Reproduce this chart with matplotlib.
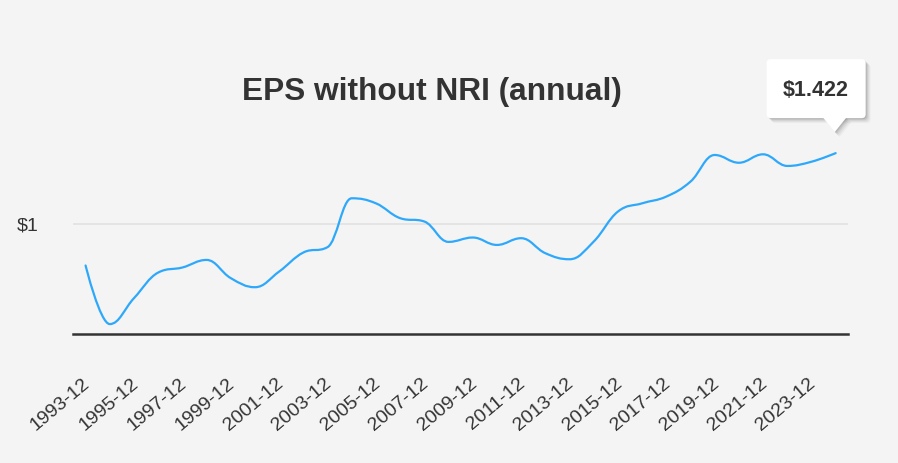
import numpy as np
import matplotlib
matplotlib.use('Agg')
import matplotlib.pyplot as plt
from matplotlib.path import Path
from matplotlib.patches import PathPatch, FancyBboxPatch, Polygon
from matplotlib.transforms import IdentityTransform, ScaledTranslation

plt.rcParams['font.family'] = ['Liberation Sans', 'DejaVu Sans']

# annual EPS without NRI
years = list(range(1993, 2025))
eps = [0.755, 0.407, 0.561, 0.713, 0.743, 0.788, 0.680, 0.626, 0.719, 0.832,
       0.864, 1.154, 1.124, 1.036, 1.016, 0.895, 0.921, 0.877, 0.917, 0.828,
       0.792, 0.897, 1.075, 1.124, 1.164, 1.253, 1.411, 1.365, 1.415, 1.346,
       1.371, 1.422]
labels = [str(y) + '-12' for y in years]
title = 'EPS without NRI (annual)'
tooltip = '$1.422'

bg = '#f4f4f4'
line_col = '#2ea8fb'
text_col = '#333333'


def spline_path(xs, ys, smoothing=1.5):
    # highcharts style spline -> bezier control points
    n = len(xs)
    denom = smoothing + 1
    left = [(xs[i], ys[i]) for i in range(n)]
    right = [(xs[i], ys[i]) for i in range(n)]
    for i in range(1, n - 1):
        px, py = xs[i], ys[i]
        lx, ly = xs[i - 1], ys[i - 1]
        nx, ny = xs[i + 1], ys[i + 1]
        lcx = (smoothing * px + lx) / denom
        lcy = (smoothing * py + ly) / denom
        rcx = (smoothing * px + nx) / denom
        rcy = (smoothing * py + ny) / denom
        corr = ((rcy - lcy) * (rcx - px)) / (rcx - lcx) + py - rcy
        lcy += corr
        rcy += corr
        if lcy > max(ly, py):
            lcy = max(ly, py)
            rcy = 2 * py - lcy
        elif lcy < min(ly, py):
            lcy = min(ly, py)
            rcy = 2 * py - lcy
        if rcy > max(py, ny):
            rcy = max(py, ny)
            lcy = 2 * py - rcy
        elif rcy < min(py, ny):
            rcy = min(py, ny)
            lcy = 2 * py - rcy
        left[i] = (lcx, lcy)
        right[i] = (rcx, rcy)
    verts = [(xs[0], ys[0])]
    codes = [Path.MOVETO]
    for i in range(1, n):
        verts += [right[i - 1], left[i], (xs[i], ys[i])]
        codes += [Path.CURVE4] * 3
    return Path(verts, codes)


W, H = 898, 463
fig = plt.figure(figsize=(W / 100, H / 100), dpi=100, facecolor=bg)
ax = fig.add_axes([73 / W, 1 - 333.7 / H, (848 - 73) / W, (333.7 - 140) / H])
ax.set_facecolor(bg)

x = np.arange(len(years))
ax.add_patch(PathPatch(spline_path(x, eps), facecolor='none', edgecolor=line_col,
                       linewidth=1.6, capstyle='round', joinstyle='round', zorder=3))

ax.set_xlim(-0.52, len(years) - 0.49)
ax.set_ylim(0.35, 1.5)

for s in ['top', 'right', 'left']:
    ax.spines[s].set_visible(False)
ax.spines['bottom'].set_color(text_col)
ax.spines['bottom'].set_linewidth(1.8)

ax.set_yticks([1])
ax.set_yticklabels(['$1'])
ax.tick_params(axis='y', length=0, pad=25, labelsize=14, labelcolor=text_col)
ax.yaxis.grid(True, color='#e4e4e4', linewidth=1.4)
ax.set_axisbelow(True)

ax.set_xticks(x[::2])
ax.set_xticklabels(labels[::2], rotation=40, ha='right', va='center',
                   rotation_mode='anchor')
ax.tick_params(axis='x', length=0, pad=34.5, labelsize=14, labelcolor=text_col)
for lab in ax.get_xticklabels():
    lab.set_transform(lab.get_transform() + ScaledTranslation(2 / 100, 0, fig.dpi_scale_trans))

fig.text(432 / W, 1 - 92 / H, title, ha='center', va='center', fontsize=22.8,
         fontweight='bold', color=text_col)

# tooltip over last point
fig.canvas.draw()
px, py = ax.transData.transform((x[-1], eps[-1]))
tipx, tipy = px - 1, py + 21
bx0, bx1 = tipx - 68, tipx + 31
by0, by1 = tipy + 14, tipy + 73
for k, a in [(5, 0.03), (4, 0.04), (3, 0.05), (2, 0.07), (1, 0.09)]:
    fig.patches.append(FancyBboxPatch((bx0 + k, by0 - k), bx1 - bx0, by1 - by0,
                                      boxstyle='round,pad=0,rounding_size=4',
                                      facecolor='black', edgecolor='none', alpha=a,
                                      transform=IdentityTransform(), figure=fig))
    fig.patches.append(Polygon([(tipx - 12 + k, by0 - k + 1), (tipx + 12 + k, by0 - k + 1),
                                (tipx + k, tipy - k)], closed=True, facecolor='black',
                               edgecolor='none', alpha=a, transform=IdentityTransform(),
                               figure=fig))
fig.patches.append(FancyBboxPatch((bx0, by0), bx1 - bx0, by1 - by0,
                                  boxstyle='round,pad=0,rounding_size=4',
                                  facecolor='white', edgecolor='none',
                                  transform=IdentityTransform(), figure=fig))
fig.patches.append(Polygon([(tipx - 12, by0 + 1), (tipx + 12, by0 + 1), (tipx, tipy)],
                           closed=True, facecolor='white', edgecolor='none',
                           transform=IdentityTransform(), figure=fig))
fig.text((bx0 + bx1) / 2 / W, ((by0 + by1) / 2 - 2) / H, tooltip, ha='center', va='center',
         fontsize=15.5, fontweight='bold', color=text_col)

fig.savefig('out.png', dpi=100, facecolor=bg)
